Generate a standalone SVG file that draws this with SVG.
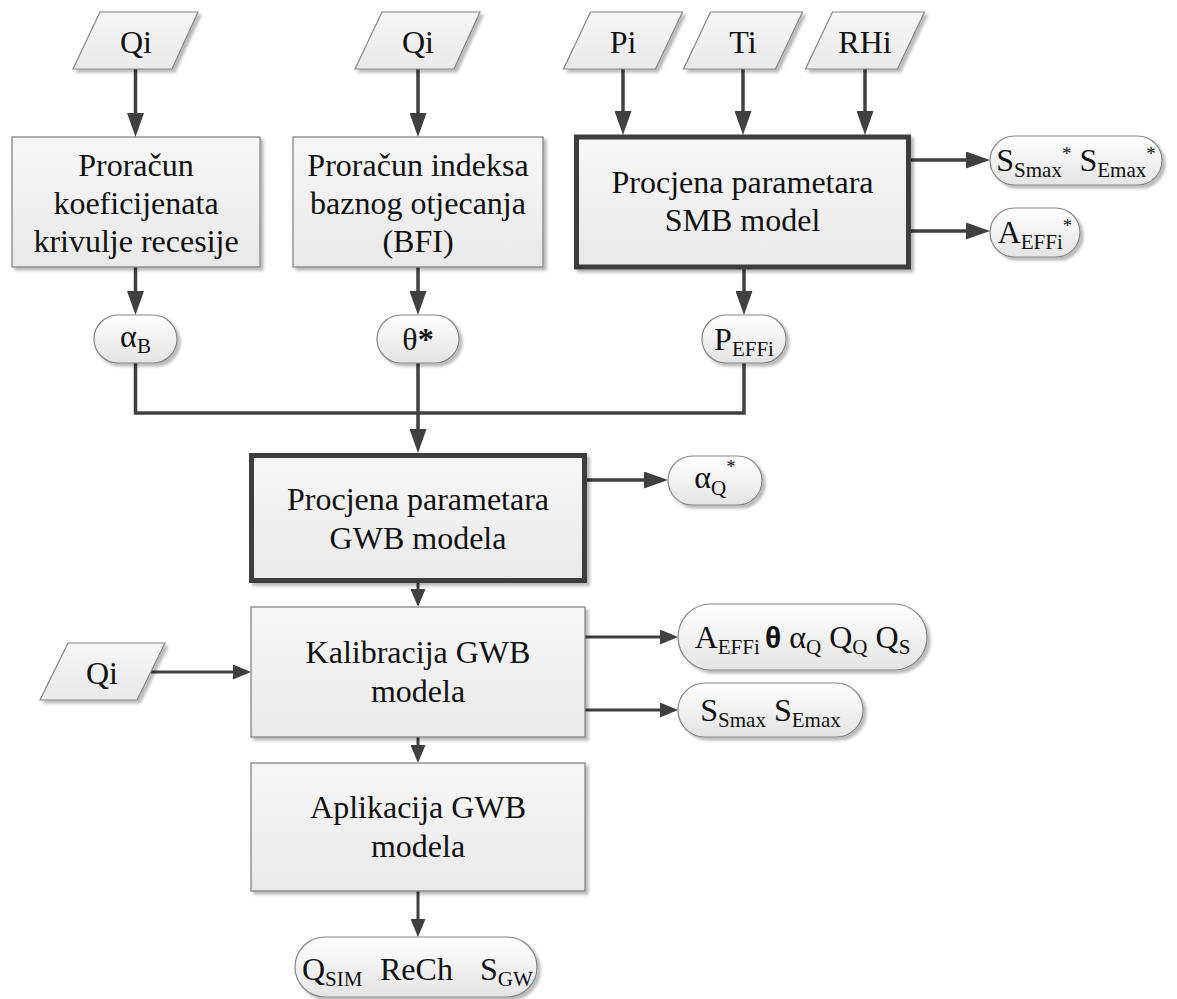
<svg xmlns="http://www.w3.org/2000/svg" width="1177" height="999" viewBox="0 0 1177 999">
<style>
text{font-family:"Liberation Serif","Times New Roman",serif;font-size:32px;fill:#111}
.sub{font-size:21px}
.sup{font-size:19px}
.box{fill:url(#gb);stroke:#858585;stroke-width:1.3;filter:url(#sh)}
.thick{fill:url(#gb);stroke:#3c3c3c;stroke-width:5;filter:url(#sh)}
.term{fill:url(#gt);stroke:#858585;stroke-width:1.2;filter:url(#sh)}
.par{fill:url(#gb);stroke:#858585;stroke-width:1.2;filter:url(#sh)}
.c{fill:none;stroke:#404040;stroke-width:3.5}
.cs{fill:none;stroke:#404040;stroke-width:3}
</style>
<defs>
<linearGradient id="gb" x1="0" y1="0" x2="0" y2="1"><stop offset="0" stop-color="#f7f7f7"/><stop offset="1" stop-color="#e9e9e9"/></linearGradient>
<linearGradient id="gt" x1="0" y1="0" x2="0" y2="1"><stop offset="0" stop-color="#ffffff"/><stop offset="1" stop-color="#e4e4e4"/></linearGradient>
<filter id="sh" x="-10%" y="-10%" width="125%" height="135%"><feDropShadow dx="3" dy="3" stdDeviation="1.5" flood-color="#000" flood-opacity="0.28"/></filter>
<marker id="ab" markerUnits="userSpaceOnUse" markerWidth="24" markerHeight="17" viewBox="0 0 24 17" refX="18" refY="8.5" orient="auto"><path d="M0,0 L24,8.5 L0,17 Z" fill="#404040"/></marker>
<marker id="as" markerUnits="userSpaceOnUse" markerWidth="18" markerHeight="15" viewBox="0 0 18 15" refX="12" refY="7.5" orient="auto"><path d="M0,0 L18,7.5 L0,15 Z" fill="#404040"/></marker>
</defs>
<rect width="1177" height="999" fill="#fff"/>

<g id="connectors">
<path class="c" d="M135.5,69 V131" marker-end="url(#ab)"/>
<path class="c" d="M418,69 V131" marker-end="url(#ab)"/>
<path class="c" d="M623,69 V129" marker-end="url(#ab)"/>
<path class="c" d="M743,69 V129" marker-end="url(#ab)"/>
<path class="c" d="M865,69 V129" marker-end="url(#ab)"/>
<path class="c" d="M911,160 H984" marker-end="url(#ab)"/>
<path class="c" d="M911,231 H984" marker-end="url(#ab)"/>
<path class="c" d="M135.5,267 V309" marker-end="url(#ab)"/>
<path class="c" d="M418,267 V309" marker-end="url(#ab)"/>
<path class="c" d="M744,269 V309" marker-end="url(#ab)"/>
<path class="c" d="M135.5,363 V413 H744 V363"/>
<path class="c" d="M418,363 V447" marker-end="url(#ab)"/>
<path class="c" d="M587,480 H662" marker-end="url(#ab)"/>
<path class="cs" d="M418,583 V601" marker-end="url(#as)"/>
<path class="cs" d="M151,672 H245" marker-end="url(#as)"/>
<path class="cs" d="M585,637 H672" marker-end="url(#as)"/>
<path class="cs" d="M585,710 H672" marker-end="url(#as)"/>
<path class="cs" d="M418,737 V757" marker-end="url(#as)"/>
<path class="cs" d="M418,891 V931" marker-end="url(#as)"/>
</g>

<g id="in-qi1"><polygon class="par" points="100,12 198,12 172,69 73,69"/><text x="136" y="53" text-anchor="middle">Qi</text></g>
<g id="in-qi2"><polygon class="par" points="382,12 480,12 454,69 355,69"/><text x="418" y="53" text-anchor="middle">Qi</text></g>
<g id="in-pi"><polygon class="par" points="590.5,12 682.5,12 655.5,69 563.5,69"/><text x="623" y="53" text-anchor="middle">Pi</text></g>
<g id="in-ti"><polygon class="par" points="710.5,12 802.5,12 775.5,69 683.5,69"/><text x="743" y="53" text-anchor="middle">Ti</text></g>
<g id="in-rhi"><polygon class="par" points="832.5,12 924.5,12 897.5,69 805.5,69"/><text x="865" y="53" text-anchor="middle">RHi</text></g>

<g id="box-recesija"><rect class="box" x="12" y="137" width="248" height="130"/>
<text x="136" y="176" text-anchor="middle">Proračun</text>
<text x="136" y="214" text-anchor="middle">koeficijenata</text>
<text x="136" y="252" text-anchor="middle">krivulje recesije</text></g>

<g id="box-bfi"><rect class="box" x="293" y="137" width="250" height="130"/>
<text x="418" y="176" text-anchor="middle">Proračun indeksa</text>
<text x="418" y="214" text-anchor="middle">baznog otjecanja</text>
<text x="418" y="252" text-anchor="middle">(BFI)</text></g>

<g id="box-smb"><rect class="thick" x="576.5" y="137" width="332" height="130"/>
<text x="742.5" y="193" text-anchor="middle">Procjena parametara</text>
<text x="742.5" y="231" text-anchor="middle">SMB model</text></g>

<g id="out-ss"><rect class="term" x="990" y="136" width="172" height="49" rx="24.5"/>
<text x="1076" y="171" text-anchor="middle">S<tspan class="sub" dy="6">Smax</tspan><tspan class="sup" dy="-17">*</tspan><tspan dy="11"> S</tspan><tspan class="sub" dy="6">Emax</tspan><tspan class="sup" dy="-17">*</tspan></text></g>

<g id="out-aeff"><rect class="term" x="990" y="208" width="90" height="49" rx="24.5"/>
<text x="1035" y="243" text-anchor="middle">A<tspan class="sub" dy="6">EFFi</tspan><tspan class="sup" dy="-17">*</tspan></text></g>

<g id="t-alphab"><rect class="term" x="94" y="315" width="83" height="48" rx="24"/>
<text x="135.5" y="347" text-anchor="middle">α<tspan class="sub" dy="6">B</tspan></text></g>

<g id="t-theta"><rect class="term" x="377" y="315" width="82" height="48" rx="24"/>
<text x="418" y="350" text-anchor="middle">θ<tspan font-weight="bold">*</tspan></text></g>

<g id="t-peff"><rect class="term" x="702" y="315" width="84" height="48" rx="24"/>
<text x="744" y="350" text-anchor="middle">P<tspan class="sub" dy="6">EFFi</tspan></text></g>

<g id="box-gwb"><rect class="thick" x="251.5" y="455.5" width="333" height="125"/>
<text x="418" y="510" text-anchor="middle">Procjena parametara</text>
<text x="418" y="549" text-anchor="middle">GWB modela</text></g>

<g id="t-alphaq"><rect class="term" x="668" y="456" width="94" height="49" rx="24.5"/>
<text x="715" y="488" text-anchor="middle">α<tspan class="sub" dy="7">Q</tspan><tspan class="sup" dy="-22">*</tspan></text></g>

<g id="in-qi3"><polygon class="par" points="68,643 165,643 137,700 40,700"/><text x="102" y="684" text-anchor="middle">Qi</text></g>

<g id="box-kalib"><rect class="box" x="251" y="607" width="334" height="130"/>
<text x="418" y="663" text-anchor="middle">Kalibracija GWB</text>
<text x="418" y="702" text-anchor="middle">modela</text></g>

<g id="out-params"><rect class="term" x="678" y="604" width="249" height="66" rx="33"/>
<text x="802.5" y="648" text-anchor="middle">A<tspan class="sub" dy="6">EFFi </tspan><tspan dy="-6" font-family="Liberation Sans" font-weight="bold" font-size="30">θ</tspan><tspan dy="0"> α</tspan><tspan class="sub" dy="6">Q</tspan><tspan dy="-6">  Q</tspan><tspan class="sub" dy="6">Q</tspan><tspan dy="-6"> Q</tspan><tspan class="sub" dy="6">S</tspan></text></g>

<g id="out-storage"><rect class="term" x="678" y="683" width="185" height="54" rx="27"/>
<text x="770.5" y="721" text-anchor="middle">S<tspan class="sub" dy="6">Smax</tspan><tspan dy="-6"> S</tspan><tspan class="sub" dy="6">Emax</tspan></text></g>

<g id="box-aplik"><rect class="box" x="251" y="763" width="334" height="128"/>
<text x="418" y="818" text-anchor="middle">Aplikacija GWB</text>
<text x="418" y="857" text-anchor="middle">modela</text></g>

<g id="out-final"><rect class="term" x="295" y="937" width="242" height="60" rx="30"/>
<text x="302" y="980">Q<tspan class="sub" dy="6">SIM</tspan></text>
<text x="380" y="980">ReCh</text>
<text x="480" y="980">S<tspan class="sub" dy="6">GW</tspan></text></g>
</svg>
